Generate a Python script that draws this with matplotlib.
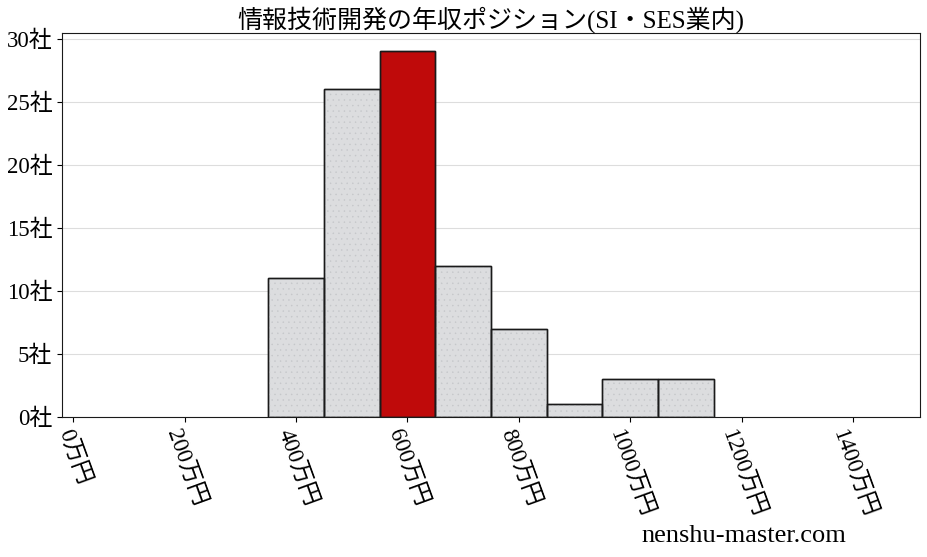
import matplotlib
matplotlib.use('Agg')
import matplotlib.pyplot as plt

plt.rcParams['font.family'] = ['Liberation Serif', 'Noto Sans CJK JP']
plt.rcParams['hatch.linewidth'] = 0.3

# 年収ポジション (万円, bin width 100)
salary = [400, 500, 600, 700, 800, 900, 1000, 1100]
counts = [11, 26, 29, 12, 7, 1, 3, 3]
highlight = 600
xticks = [0, 200, 400, 600, 800, 1000, 1200, 1400]
yticks = [0, 5, 10, 15, 20, 25, 30]
title = '情報技術開発の年収ポジション(SI・SES業内)'

fig = plt.figure(figsize=(9.28, 5.57), dpi=100)
ax = fig.add_axes([0.0668, 0.2513, 0.9244, 0.6895])

colors = ['#bf0a0a' if s == highlight else '#dcdddf' for s in salary]
ax.bar(salary, counts, width=100, color=colors, edgecolor='#1a1a1a', linewidth=1.0, zorder=2)
# stipple pattern on the grey bars
grey_x = [s for s in salary if s != highlight]
grey_c = [c for s, c in zip(salary, counts) if s != highlight]
ax.bar(grey_x, grey_c, width=100, fill=False, hatch='...', edgecolor='#c4c6c9', linewidth=0, zorder=2.5)
ax.bar(salary, counts, width=100, fill=False, edgecolor='#1a1a1a', linewidth=1.0, zorder=3)

ax.set_xlim(-20, 1520)
ax.set_ylim(0, 30.45)
ax.set_xticks(xticks)
ax.set_xticklabels([f'{v}万円' for v in xticks], rotation=-70, ha='center', fontsize=16.5)
ax.set_yticks(yticks)
ax.set_yticklabels([f'{v}社' for v in yticks], fontsize=16.5)
ax.yaxis.grid(True, color='#dddddd', linewidth=0.8, zorder=0)
ax.set_axisbelow(True)
for sp in ax.spines.values():
    sp.set_color('#1a1a1a')
ax.set_title(title, fontsize=18, pad=3)

fig.text(0.8017, 0.018, 'nenshu-master.com', ha='center', va='bottom', fontsize=19)

fig.savefig('out.png', dpi=100)
